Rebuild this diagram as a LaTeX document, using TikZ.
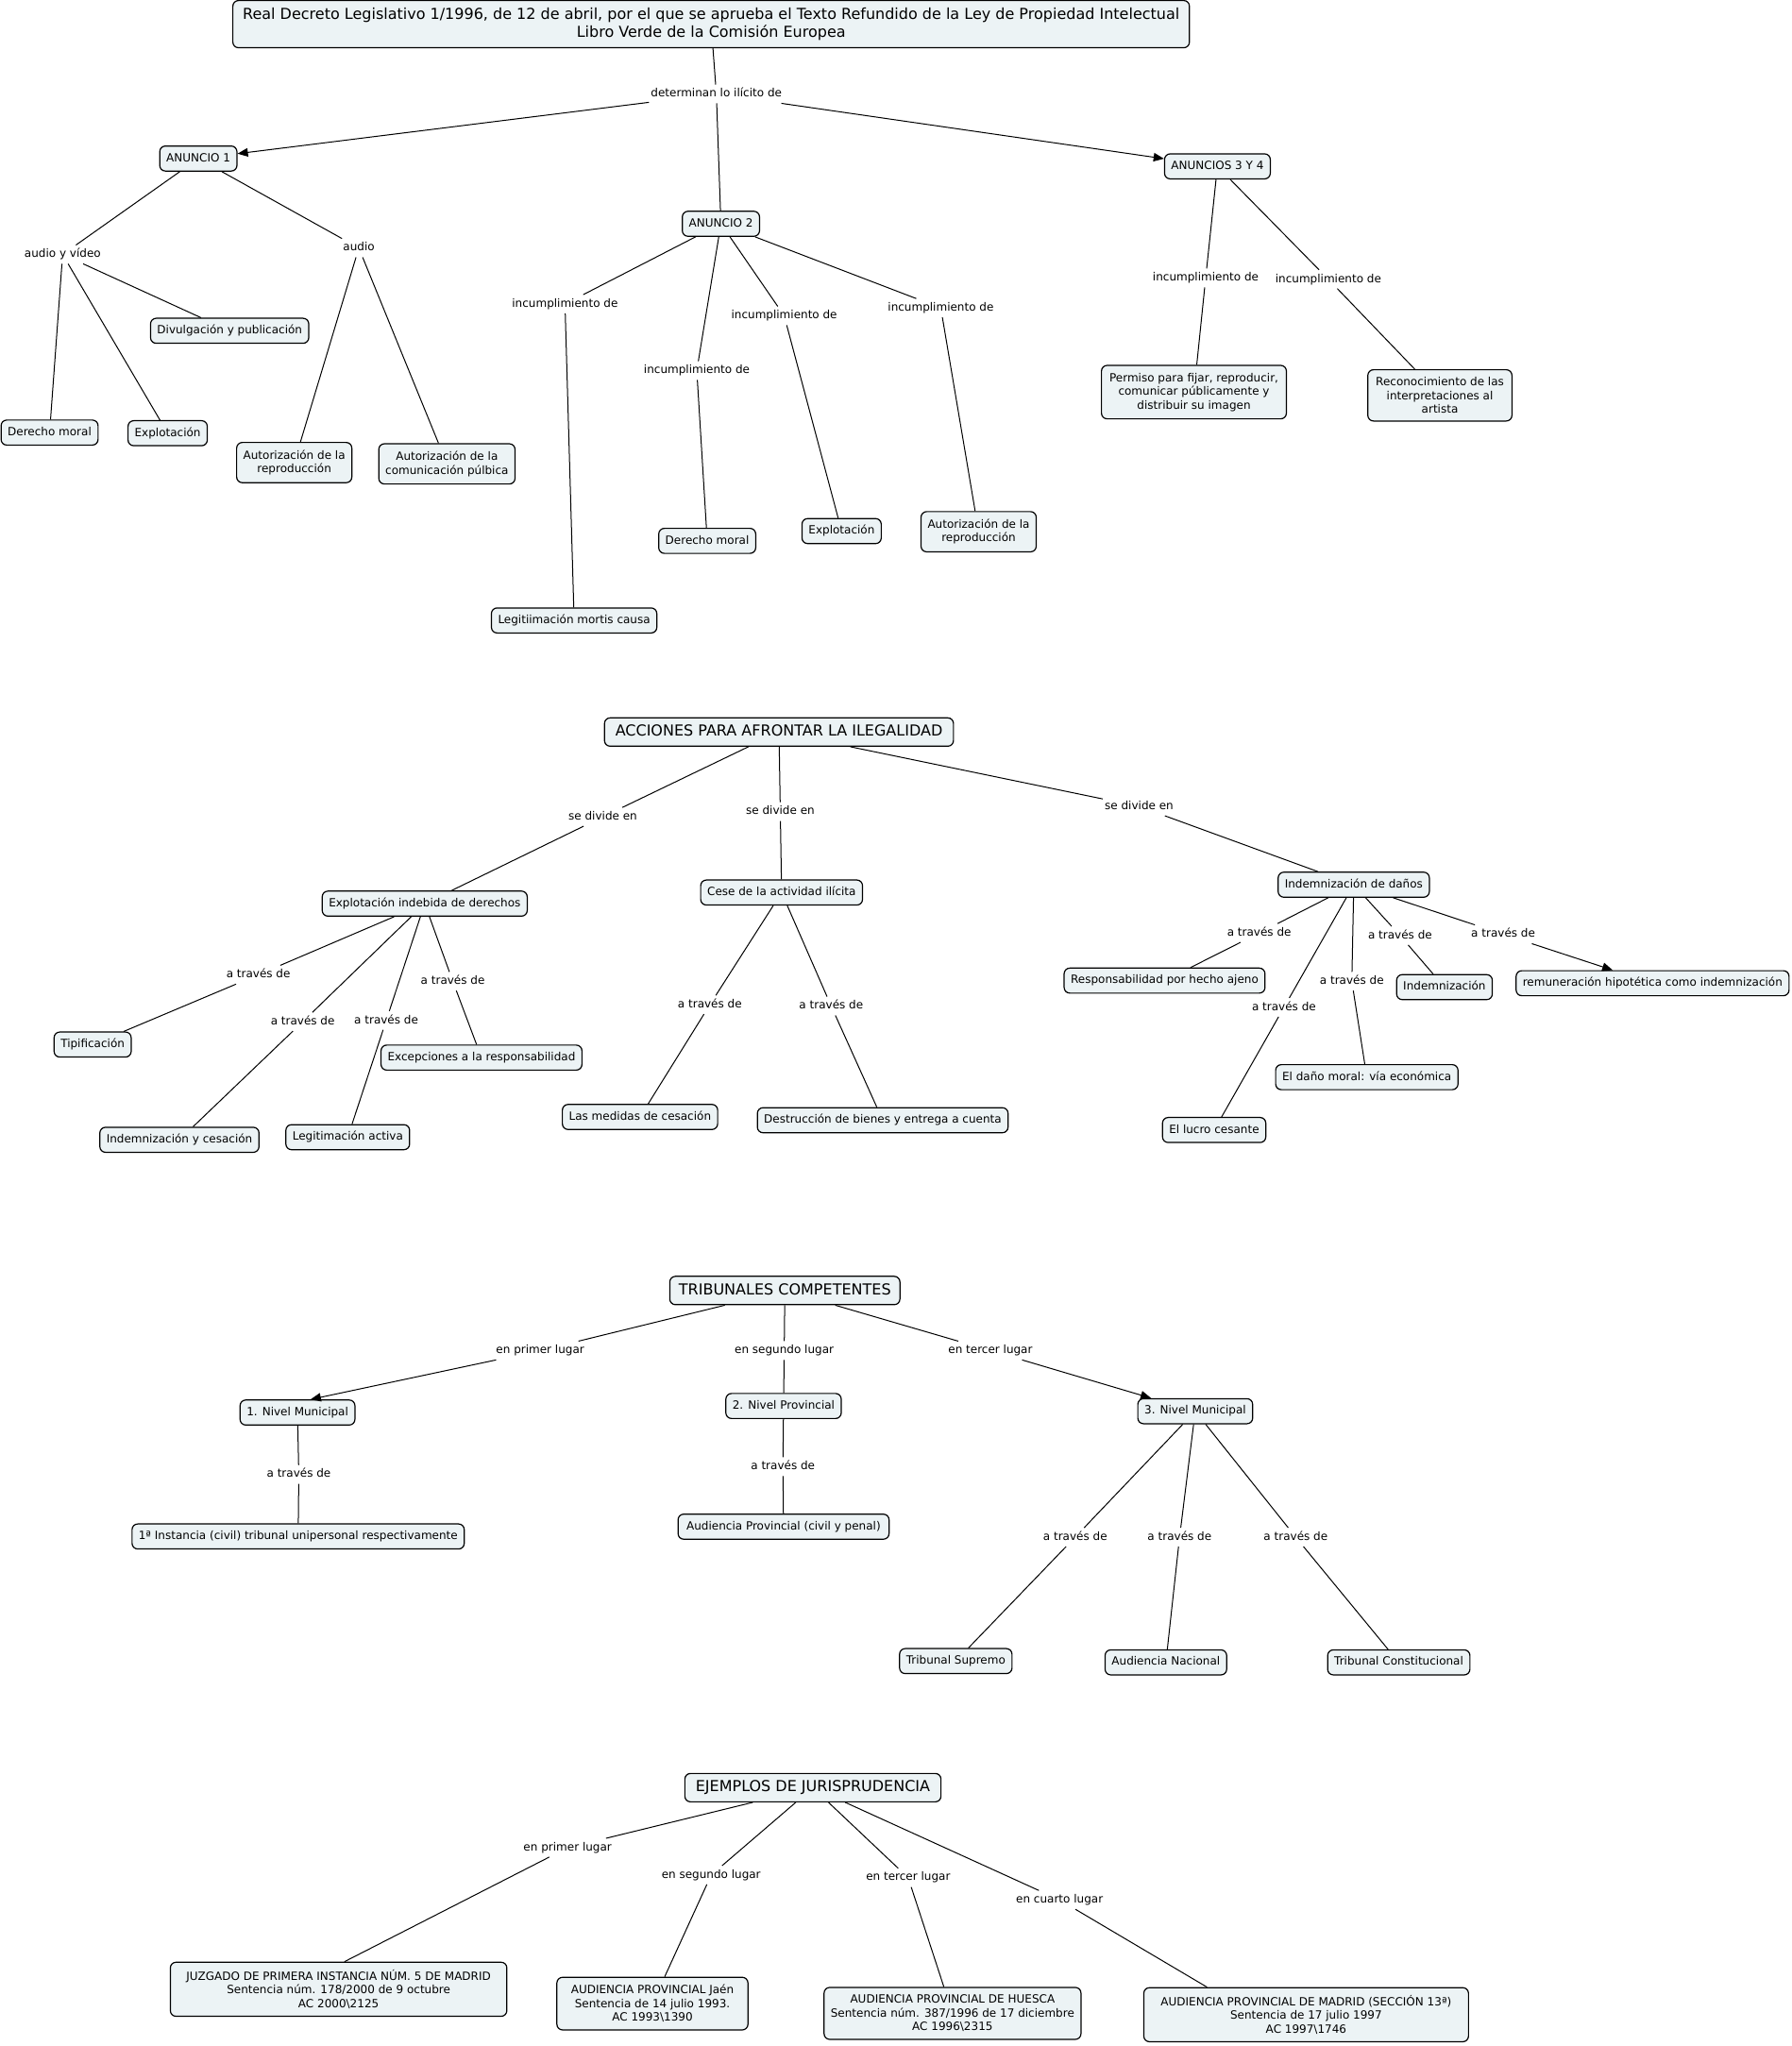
\documentclass[tikz,border=0pt]{standalone}
\usepackage{fontspec}
\setmainfont{DejaVu Sans}
\usetikzlibrary{arrows.meta,calc}
\definecolor{boxfill}{HTML}{ECF3F5}
\tikzset{
  sbox/.style={draw, line width=1.2pt, rounded corners=6pt, fill=boxfill,
    font=\fontsize{12}{14.5}\selectfont, inner xsep=7pt, inner ysep=7pt,
    text height=9.5pt, text depth=3pt},
  mbox/.style={draw, line width=1.2pt, rounded corners=6pt, fill=boxfill, align=center,
    font=\fontsize{12}{14.5}\selectfont, inner xsep=7pt, inner ysep=8pt},
  hbox/.style={draw, line width=1.2pt, rounded corners=6pt, fill=boxfill,
    font=\fontsize{16}{19.5}\selectfont, inner xsep=11.5pt, inner ysep=7pt,
    text height=12.5pt, text depth=3.5pt},
  tbox/.style={draw, line width=1.2pt, rounded corners=6pt, fill=boxfill, align=center,
    font=\fontsize{16}{19.5}\selectfont, inner xsep=10.5pt, inner ysep=7.5pt},
  lab/.style={font=\fontsize{12}{14.5}\selectfont, inner xsep=2pt, inner ysep=4pt,
    text height=9pt, text depth=2.5pt},
  conn/.style={line width=1pt},
  arr/.style={line width=1pt, -{Triangle[length=11pt,width=9pt]}}
}
\begin{document}
\begin{tikzpicture}[x=1.3817pt, y=-1.3817pt]
\fill[white] (0,0) rectangle (1373,1568);
\useasboundingbox (0,0) rectangle (1373,1568);

% ---------------- Section 1 ----------------
\node[tbox] (title) at (545,18.5) {Real Decreto Legislativo 1/1996, de 12 de abril, por el que se aprueba el Texto Refundido de la Ley de Propiedad Intelectual\\Libro Verde de la Comisión Europea};
\node[lab] (det) at (549,72) {determinan lo ilícito de};
\node[sbox] (an1) at (152,121.5) {ANUNCIO 1};
\node[sbox] (an2) at (552.5,171.5) {ANUNCIO 2};
\node[sbox] (an34) at (933,127.5) {ANUNCIOS 3 Y 4};
\draw[conn] (title) -- (det);
\draw[arr] (det) -- (an1);
\draw[conn] (det) -- (an2);
\draw[arr] (det) -- (an34);

\node[lab] (lav) at (48,195) {audio y vídeo};
\node[lab] (lau) at (275,190) {audio};
\node[sbox] (dm1) at (38,331.5) {Derecho moral};
\node[sbox] (ex1) at (128.5,332) {Explotación};
\node[sbox] (div) at (176,253.5) {Divulgación y publicación};
\node[mbox] (aur1) at (225.5,354.5) {Autorización de la\\reproducción};
\node[mbox] (auc) at (342.5,355.5) {Autorización de la\\comunicación púlbica};
\draw[conn] (an1) -- (lav);
\draw[conn] (an1) -- (lau);
\draw[conn] (lav) -- (dm1);
\draw[conn] (lav) -- (ex1);
\draw[conn] (lav) -- (div);
\draw[conn] (lau) -- (aur1);
\draw[conn] (lau) -- (auc);

\node[lab] (i1) at (433,233) {incumplimiento de};
\node[lab] (i2) at (534,284) {incumplimiento de};
\node[lab] (i3) at (601,242) {incumplimiento de};
\node[lab] (i4) at (721,236) {incumplimiento de};
\node[sbox] (leg) at (440,475.5) {Legitiimación mortis causa};
\node[sbox] (dm2) at (542,414.5) {Derecho moral};
\node[sbox] (ex2) at (645,407) {Explotación};
\node[mbox] (aur2) at (750,407.5) {Autorización de la\\reproducción};
\draw[conn] (an2) -- (i1);
\draw[conn] (an2) -- (i2);
\draw[conn] (an2) -- (i3);
\draw[conn] (an2) -- (i4);
\draw[conn] (i1) -- (leg);
\draw[conn] (i2) -- (dm2);
\draw[conn] (i3) -- (ex2);
\draw[conn] (i4) -- (aur2);

\node[lab] (i5) at (924,213) {incumplimiento de};
\node[lab] (i6) at (1018,214) {incumplimiento de};
\node[mbox, inner xsep=8.5pt] (perm) at (915,300.5) {Permiso para fijar, reproducir,\\comunicar públicamente y\\distribuir su imagen};
\node[mbox, inner xsep=8.5pt] (reco) at (1103.5,303) {Reconocimiento de las\\interpretaciones al\\artista};
\draw[conn] (an34) -- (i5);
\draw[conn] (an34) -- (i6);
\draw[conn] (i5) -- (perm);
\draw[conn] (i6) -- (reco);

% ---------------- Section 2 ----------------
\node[hbox] (acc) at (597,561) {ACCIONES PARA AFRONTAR LA ILEGALIDAD};
\node[lab] (s1) at (462,626) {se divide en};
\node[lab] (s2) at (598,622) {se divide en};
\node[lab] (s3) at (873,618) {se divide en};
\node[sbox] (eid) at (325.5,692.5) {Explotación indebida de derechos};
\node[sbox] (cese) at (599,684) {Cese de la actividad ilícita};
\node[sbox] (idd) at (1037.5,678) {Indemnización de daños};
\draw[conn] (acc) -- (s1);
\draw[conn] (acc) -- (s2);
\draw[conn] (acc) -- (s3);
\draw[conn] (s1) -- (eid);
\draw[conn] (s2) -- (cese);
\draw[conn] (s3) -- (idd);

\node[lab] (t1) at (198,747) {a través de};
\node[lab] (t2) at (232,783) {a través de};
\node[lab] (t3) at (296,782) {a través de};
\node[lab] (t4) at (347,752) {a través de};
\node[sbox] (tip) at (71,800.5) {Tipificación};
\node[sbox] (iyc) at (137.5,873.5) {Indemnización y cesación};
\node[sbox] (lega) at (266.5,871.5) {Legitimación activa};
\node[sbox] (exc) at (369,810.5) {Excepciones a la responsabilidad};
\draw[conn] (eid) -- (t1);
\draw[conn] (eid) -- (t2);
\draw[conn] (eid) -- (t3);
\draw[conn] (eid) -- (t4);
\draw[conn] (t1) -- (tip);
\draw[conn] (t2) -- (iyc);
\draw[conn] (t3) -- (lega);
\draw[conn] (t4) -- (exc);

\node[lab] (t5) at (544,770) {a través de};
\node[lab] (t6) at (637,771) {a través de};
\node[sbox] (med) at (490.5,856) {Las medidas de cesación};
\node[sbox] (des) at (676.5,858.5) {Destrucción de bienes y entrega a cuenta};
\draw[conn] (cese) -- (t5);
\draw[conn] (cese) -- (t6);
\draw[conn] (t5) -- (med);
\draw[conn] (t6) -- (des);

\node[lab] (t7) at (965,715) {a través de};
\node[lab] (t8) at (984,772) {a través de};
\node[lab] (t9) at (1036,752) {a través de};
\node[lab] (t10) at (1073,717) {a través de};
\node[lab] (t11) at (1152,716) {a través de};
\node[sbox] (rph) at (892.5,751.5) {Responsabilidad por hecho ajeno};
\node[sbox] (luc) at (930.5,866) {El lucro cesante};
\node[sbox] (dmo) at (1047.5,825.5) {El daño moral: vía económica};
\node[sbox] (ind) at (1107,756.5) {Indemnización};
\node[sbox] (rem) at (1266.5,753.5) {remuneración hipotética como indemnización};
\draw[conn] (idd) -- (t7);
\draw[conn] (idd) -- (t8);
\draw[conn] (idd) -- (t9);
\draw[conn] (idd) -- (t10);
\draw[conn] (idd) -- (t11);
\draw[conn] (t7) -- (rph);
\draw[conn] (t8) -- (luc);
\draw[conn] (t9) -- (dmo);
\draw[conn] (t10) -- (ind);
\draw[arr] (t11) -- (rem);

% ---------------- Section 3 ----------------
\node[hbox, inner xsep=9.5pt] (tri) at (601.5,989) {TRIBUNALES COMPETENTES};
\node[lab] (e1) at (414,1035) {en primer lugar};
\node[lab] (e2) at (601,1035) {en segundo lugar};
\node[lab] (e3) at (759,1035) {en tercer lugar};
\node[sbox] (nm1) at (228,1082.5) {1. Nivel Municipal};
\node[sbox] (np2) at (600.5,1077.5) {2. Nivel Provincial};
\node[sbox] (nm3) at (916,1081.5) {3. Nivel Municipal};
\draw[conn] (tri) -- (e1);
\draw[conn] (tri) -- (e2);
\draw[conn] (tri) -- (e3);
\draw[arr] (e1) -- ($(nm1.north)+(10,0)$);
\draw[conn] (e2) -- (np2);
\draw[arr] (e3) -- (nm3);

\node[lab] (u1) at (229,1130) {a través de};
\node[lab] (u2) at (600,1124) {a través de};
\node[sbox] (ins) at (228.5,1177.5) {1ª Instancia (civil) tribunal unipersonal respectivamente};
\node[sbox, inner xsep=9pt] (apr) at (600.5,1170) {Audiencia Provincial (civil y penal)};
\draw[conn] (nm1) -- (u1);
\draw[conn] (u1) -- (ins);
\draw[conn] (np2) -- (u2);
\draw[conn] (u2) -- (apr);

\node[lab] (u3) at (824,1178) {a través de};
\node[lab] (u4) at (904,1178) {a través de};
\node[lab] (u5) at (993,1178) {a través de};
\node[sbox] (ts) at (732.5,1273) {Tribunal Supremo};
\node[sbox] (an) at (893.5,1274) {Audiencia Nacional};
\node[sbox] (tc) at (1072,1274) {Tribunal Constitucional};
\draw[conn] (nm3) -- (u3);
\draw[conn] (nm3) -- (u4);
\draw[conn] (nm3) -- (u5);
\draw[conn] (u3) -- (ts);
\draw[conn] (u4) -- (an);
\draw[conn] (u5) -- (tc);

% ---------------- Section 4 ----------------
\node[hbox] (eje) at (623,1370) {EJEMPLOS DE JURISPRUDENCIA};
\node[lab] (j1) at (435,1416) {en primer lugar};
\node[lab] (j2) at (545,1437) {en segundo lugar};
\node[lab] (j3) at (696,1439) {en tercer lugar};
\node[lab] (j4) at (812,1456) {en cuarto lugar};
\node[mbox, inner xsep=17pt] (juz) at (259.5,1524.5) {JUZGADO DE PRIMERA INSTANCIA NÚM. 5 DE MADRID\\Sentencia núm. 178/2000 de 9 octubre\\AC 2000\textbackslash 2125};
\node[mbox, inner xsep=15pt] (apj) at (500,1535.5) {AUDIENCIA PROVINCIAL Jaén\\Sentencia de 14 julio 1993.\\AC 1993\textbackslash 1390};
\node[mbox] (aph) at (730,1543) {AUDIENCIA PROVINCIAL DE HUESCA\\Sentencia núm. 387/1996 de 17 diciembre\\AC 1996\textbackslash 2315};
\node[mbox, inner xsep=18pt] (apm) at (1001,1544) {AUDIENCIA PROVINCIAL DE MADRID (SECCIÓN 13ª)\\Sentencia de 17 julio 1997\\AC 1997\textbackslash 1746};
\draw[conn] (eje) -- (j1);
\draw[conn] (eje) -- (j2);
\draw[conn] (eje) -- (j3);
\draw[conn] (eje) -- (j4);
\draw[conn] (j1) -- ($(juz.north)+(4.5,0)$);
\draw[conn] (j2) -- (apj);
\draw[conn] (j3) -- (aph);
\draw[conn] (j4) -- ($(apm.north)+(-76,0)$);
\end{tikzpicture}
\end{document}
